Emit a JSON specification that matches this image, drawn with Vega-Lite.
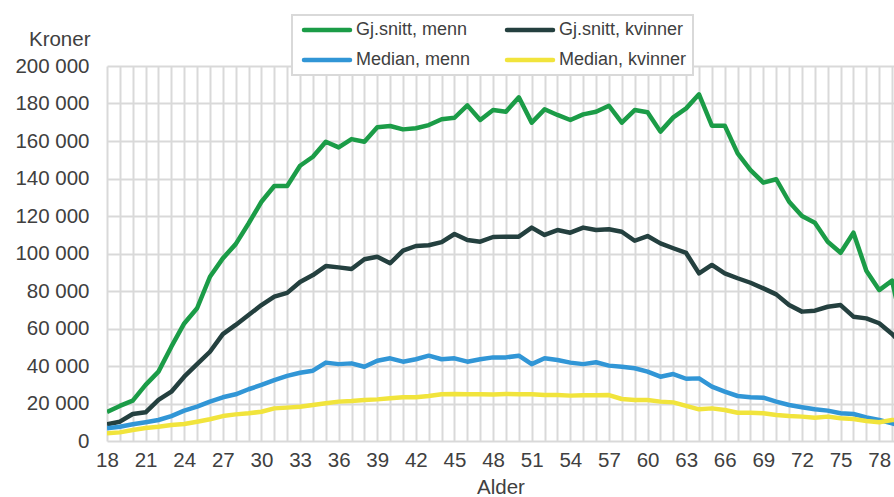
{
  "$schema": "https://vega.github.io/schema/vega-lite/v6.json",
  "width": 787,
  "height": 375,
  "autosize": {"type": "none"},
  "padding": {"left": 107, "top": 66, "right": 0, "bottom": 56},
  "background": "white",
  "config": {
    "view": {"stroke": null},
    "font": "Liberation Sans",
    "axis": {"labelFont": "Liberation Sans", "titleFont": "Liberation Sans", "labelColor": "#404040", "titleColor": "#404040", "labelFontSize": 20.5, "titleFontSize": 20.5, "titleFontWeight": "normal", "gridColor": "#d9d9d9", "gridWidth": 2, "gridOpacity": 1, "ticks": false, "domain": false},
    "legend": {"labelFont": "Liberation Sans", "labelFontSize": 18, "labelColor": "#404040"}
  },
  "data": {
    "values": [
      {"age": 18, "gm": 15500, "gk": 8900, "mm": 6800, "mk": 4100},
      {"age": 19, "gm": 18700, "gk": 10300, "mm": 7600, "mk": 4600},
      {"age": 20, "gm": 21500, "gk": 14400, "mm": 8900, "mk": 5900},
      {"age": 21, "gm": 29900, "gk": 15300, "mm": 10000, "mk": 6900},
      {"age": 22, "gm": 37000, "gk": 21900, "mm": 11200, "mk": 7600},
      {"age": 23, "gm": 50300, "gk": 26300, "mm": 13300, "mk": 8500},
      {"age": 24, "gm": 62700, "gk": 34300, "mm": 16200, "mk": 9100},
      {"age": 25, "gm": 70800, "gk": 41000, "mm": 18300, "mk": 10300},
      {"age": 26, "gm": 87600, "gk": 47600, "mm": 21000, "mk": 11600},
      {"age": 27, "gm": 97400, "gk": 57000, "mm": 23300, "mk": 13300},
      {"age": 28, "gm": 105000, "gk": 61900, "mm": 24900, "mk": 14200},
      {"age": 29, "gm": 116000, "gk": 67200, "mm": 27600, "mk": 14800},
      {"age": 30, "gm": 127600, "gk": 72500, "mm": 29900, "mk": 15600},
      {"age": 31, "gm": 136000, "gk": 77000, "mm": 32500, "mk": 17400},
      {"age": 32, "gm": 136000, "gk": 79000, "mm": 34700, "mk": 17800},
      {"age": 33, "gm": 146800, "gk": 84800, "mm": 36400, "mk": 18300},
      {"age": 34, "gm": 151600, "gk": 88500, "mm": 37500, "mk": 19200},
      {"age": 35, "gm": 159600, "gk": 93300, "mm": 41800, "mk": 20100},
      {"age": 36, "gm": 156600, "gk": 92600, "mm": 41000, "mk": 21000},
      {"age": 37, "gm": 161000, "gk": 91700, "mm": 41400, "mk": 21300},
      {"age": 38, "gm": 159600, "gk": 96900, "mm": 39600, "mk": 21900},
      {"age": 39, "gm": 167300, "gk": 98300, "mm": 42800, "mk": 22200},
      {"age": 40, "gm": 168000, "gk": 94800, "mm": 44100, "mk": 22800},
      {"age": 41, "gm": 166200, "gk": 101500, "mm": 42300, "mk": 23300},
      {"age": 42, "gm": 166800, "gk": 104000, "mm": 43600, "mk": 23300},
      {"age": 43, "gm": 168500, "gk": 104400, "mm": 45500, "mk": 24000},
      {"age": 44, "gm": 171600, "gk": 106100, "mm": 43600, "mk": 24900},
      {"age": 45, "gm": 172400, "gk": 110400, "mm": 44100, "mk": 25100},
      {"age": 46, "gm": 179000, "gk": 107200, "mm": 42300, "mk": 24900},
      {"age": 47, "gm": 171200, "gk": 106300, "mm": 43600, "mk": 24900},
      {"age": 48, "gm": 176500, "gk": 108800, "mm": 44600, "mk": 24800},
      {"age": 49, "gm": 175600, "gk": 109000, "mm": 44600, "mk": 25100},
      {"age": 50, "gm": 183300, "gk": 109000, "mm": 45500, "mk": 24900},
      {"age": 51, "gm": 169800, "gk": 113800, "mm": 41000, "mk": 24900},
      {"age": 52, "gm": 176900, "gk": 109900, "mm": 44100, "mk": 24500},
      {"age": 53, "gm": 173900, "gk": 112500, "mm": 43200, "mk": 24500},
      {"age": 54, "gm": 171200, "gk": 111100, "mm": 41800, "mk": 24200},
      {"age": 55, "gm": 174200, "gk": 113800, "mm": 41000, "mk": 24400},
      {"age": 56, "gm": 175600, "gk": 112500, "mm": 42000, "mk": 24400},
      {"age": 57, "gm": 178800, "gk": 112900, "mm": 40200, "mk": 24500},
      {"age": 58, "gm": 169800, "gk": 111600, "mm": 39600, "mk": 22400},
      {"age": 59, "gm": 176500, "gk": 106800, "mm": 38800, "mk": 21900},
      {"age": 60, "gm": 175300, "gk": 109300, "mm": 37000, "mk": 21900},
      {"age": 61, "gm": 165000, "gk": 105400, "mm": 34300, "mk": 21000},
      {"age": 62, "gm": 172600, "gk": 102800, "mm": 35700, "mk": 20600},
      {"age": 63, "gm": 177400, "gk": 100300, "mm": 33200, "mk": 18700},
      {"age": 64, "gm": 184900, "gk": 89400, "mm": 33400, "mk": 16900},
      {"age": 65, "gm": 168200, "gk": 93900, "mm": 29000, "mk": 17400},
      {"age": 66, "gm": 168200, "gk": 89400, "mm": 26300, "mk": 16500},
      {"age": 67, "gm": 153400, "gk": 86800, "mm": 24000, "mk": 15100},
      {"age": 68, "gm": 144500, "gk": 84400, "mm": 23300, "mk": 15100},
      {"age": 69, "gm": 137800, "gk": 81400, "mm": 23100, "mk": 14800},
      {"age": 70, "gm": 139600, "gk": 78200, "mm": 21000, "mk": 13900},
      {"age": 71, "gm": 127600, "gk": 72500, "mm": 19200, "mk": 13300},
      {"age": 72, "gm": 120000, "gk": 69000, "mm": 18000, "mk": 13000},
      {"age": 73, "gm": 116400, "gk": 69500, "mm": 16900, "mk": 12400},
      {"age": 74, "gm": 106300, "gk": 71600, "mm": 16200, "mk": 13000},
      {"age": 75, "gm": 100400, "gk": 72500, "mm": 14800, "mk": 12100},
      {"age": 76, "gm": 111100, "gk": 66300, "mm": 14400, "mk": 11700},
      {"age": 77, "gm": 90800, "gk": 65400, "mm": 12600, "mk": 10700},
      {"age": 78, "gm": 80500, "gk": 62800, "mm": 11200, "mk": 10000},
      {"age": 79, "gm": 85500, "gk": 57100, "mm": 9400, "mk": 11200},
      {"age": 80, "gm": 55000, "gk": 50000, "mm": 7500, "mk": 11500}
    ]
  },
  "transform": [
    {"fold": ["gm", "gk", "mm", "mk"], "as": ["serie", "kr"]}
  ],
  "mark": {"type": "line", "strokeWidth": 4.5, "clip": true, "strokeJoin": "round"},
  "encoding": {
    "x": {
      "field": "age", "type": "quantitative",
      "scale": {"domain": [18, 79.15], "nice": false, "zero": false},
      "axis": {
        "title": "Alder", "titlePadding": 7,
        "values": [18,19,20,21,22,23,24,25,26,27,28,29,30,31,32,33,34,35,36,37,38,39,40,41,42,43,44,45,46,47,48,49,50,51,52,53,54,55,56,57,58,59,60,61,62,63,64,65,66,67,68,69,70,71,72,73,74,75,76,77,78,79],
        "labelExpr": "(datum.value - 18) % 3 == 0 ? datum.label : ''",
        "labelOverlap": false, "labelPadding": 9, "labelFlush": false, "grid": true
      }
    },
    "y": {
      "field": "kr", "type": "quantitative",
      "scale": {"domain": [0, 200000], "nice": false},
      "axis": {
        "title": "Kroner", "titleAngle": 0, "titleAlign": "right", "titleBaseline": "middle", "titleX": -17, "titleY": -27,
        "values": [0, 20000, 40000, 60000, 80000, 100000, 120000, 140000, 160000, 180000, 200000],
        "labelExpr": "replace(format(datum.value, ','), ',', ' ')",
        "labelPadding": 18, "grid": true
      }
    },
    "color": {
      "field": "serie", "type": "nominal",
      "scale": {"domain": ["gm", "gk", "mm", "mk"], "range": ["#1b9c47", "#24403f", "#3196d6", "#f1e43c"]},
      "legend": {
        "title": null, "orient": "none", "legendX": 185, "legendY": -51, "direction": "horizontal", "columns": 2,
        "labelExpr": "datum.value == 'gm' ? 'Gj.snitt, menn' : datum.value == 'gk' ? 'Gj.snitt, kvinner' : datum.value == 'mm' ? 'Median, menn' : 'Median, kvinner'",
        "symbolType": "M-4.6,0H4.6", "symbolSize": 100, "symbolStrokeWidth": 4.5, "symbolOffset": 20, "labelOffset": 20,
        "columnPadding": 27, "rowPadding": 12, "padding": 6,
        "strokeColor": "#d9d9d9", "fillColor": "white", "labelLimit": 300,
        "encode": {
          "symbols": {"update": {"strokeCap": {"value": "round"}}},
          "legend": {"update": {"strokeWidth": {"value": 2}}}
        }
      }
    }
  }
}
